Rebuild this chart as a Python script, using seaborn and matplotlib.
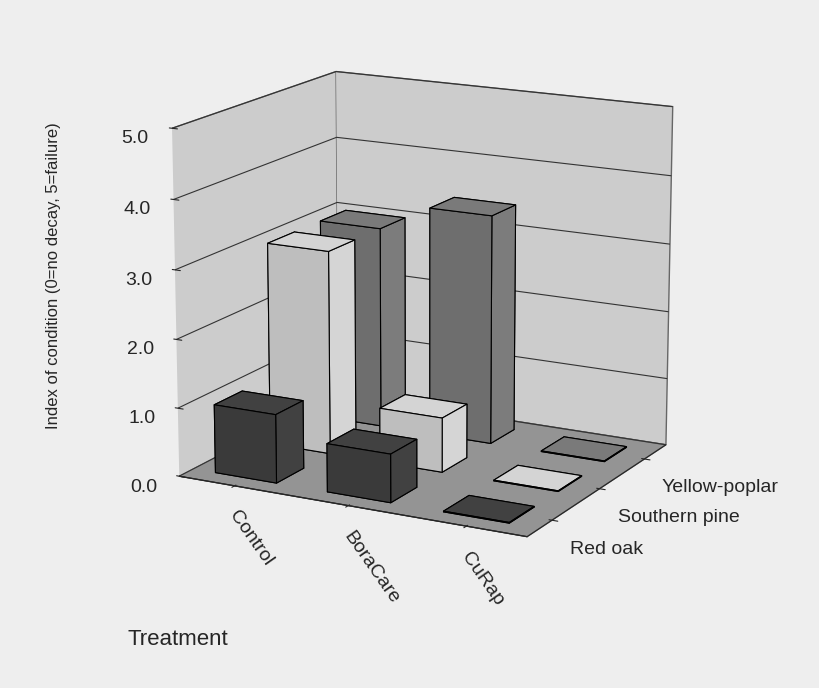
import numpy as np
import matplotlib
matplotlib.use("Agg")
import matplotlib.pyplot as plt
import seaborn as sns

treatments = ["Control", "BoraCare", "CuRap"]
species = ["Red oak", "Southern pine", "Yellow-poplar"]
red_oak = [1.0, 0.7, 0.0]
southern_pine = [3.0, 0.8, 0.0]
yellow_poplar = [3.0, 3.4, 0.0]
zticks = [0.0, 1.0, 2.0, 3.0, 4.0, 5.0]

sns.set_style("white")
plt.rcParams['font.family'] = ['Liberation Sans', 'DejaVu Sans']
colors = ["#4a4a4a", "#f2f2f2", "#8c8c8c"]
bg = "#eeeeee"

fig = plt.figure(figsize=(8.2, 6.88), dpi=100, facecolor=bg)
ax = fig.add_axes([0.08, 0.13, 0.86, 0.87], projection="3d")
ax.set_facecolor(bg)

for j, vals in enumerate([red_oak, southern_pine, yellow_poplar]):
    for i, v in enumerate(vals):
        h = max(v, 0.01)
        ax.bar3d(i + 0.2, j + 0.25, 0, 0.55, 0.5, h, color=colors[j],
                 edgecolor="black", linewidth=0.8, shade=True, lightsource=matplotlib.colors.LightSource(azdeg=120, altdeg=40))

ax.set_xlim(0, 3)
ax.set_ylim(0, 3)
ax.set_zlim(0, 5)
ax.set_xticks(np.arange(3) + 0.5)
ax.set_xticklabels(treatments, rotation=-55, ha="left", va="top", fontsize=14)
ax.set_yticks(np.arange(3) + 0.5)
ax.set_yticklabels(species, fontsize=14, ha="left")
ax.set_zticks(zticks)
ax.set_zticklabels([f"{z:.1f}" for z in zticks], fontsize=14)
ax.zaxis._axinfo['juggled'] = (1, 0, 2)
ax.zaxis.set_tick_params(pad=8)
fig.text(0.065, 0.6, "Index of condition (0=no decay, 5=failure)", rotation=90,
         fontsize=12, ha="center", va="center")
fig.text(0.155, 0.07, "Treatment", fontsize=16, ha="left", va="center")

ax.xaxis.set_pane_color((0.80, 0.80, 0.80, 1.0))
ax.yaxis.set_pane_color((0.80, 0.80, 0.80, 1.0))
ax.zaxis.set_pane_color((0.58, 0.58, 0.58, 1.0))
for a in (ax.xaxis, ax.yaxis, ax.zaxis):
    a.pane.set_edgecolor("#666666")
    a._axinfo["grid"]["color"] = "#333333"
    a._axinfo["grid"]["linewidth"] = 0.8
ax.xaxis._axinfo["grid"]["linewidth"] = 0
ax.yaxis._axinfo["grid"]["linewidth"] = 0
ax.view_init(elev=15, azim=-62)
ax.set_box_aspect((1.2, 1.0, 1.1))

fig.savefig("out.png", dpi=100, facecolor=bg)
